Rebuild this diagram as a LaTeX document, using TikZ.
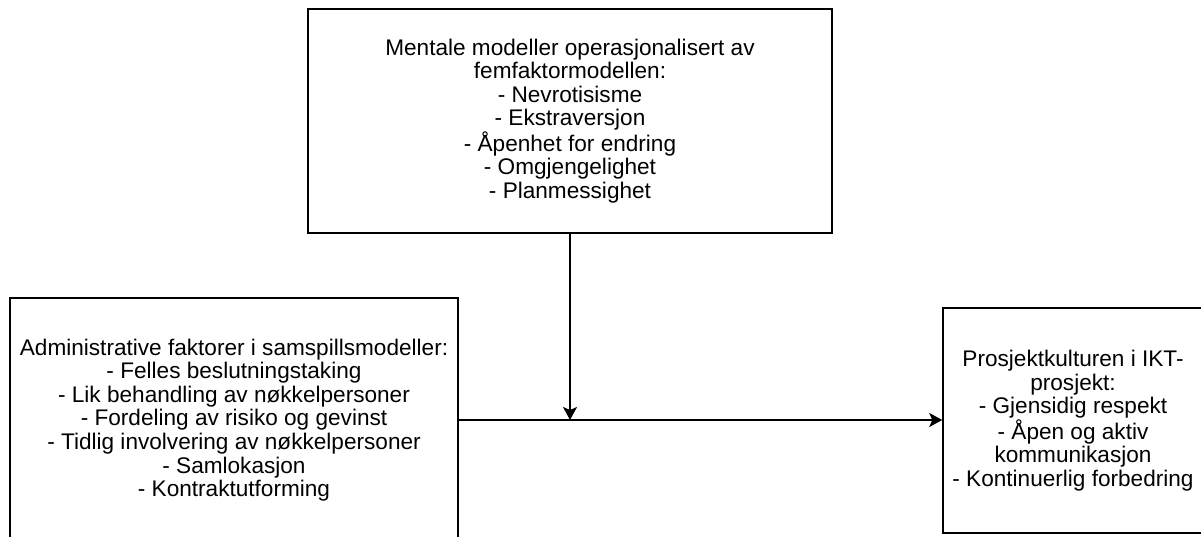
\documentclass[tikz,border=0pt]{standalone}
\usepackage{fontspec}
\setmainfont{Liberation Sans}
\usetikzlibrary{arrows.meta}
\begin{document}
\begin{tikzpicture}[x=1pt,y=-1pt,
  box/.style={draw=black, line width=1.5pt, fill=white, inner sep=0pt, align=center,
    font=\fontsize{22.6}{23.6}\selectfont},
  flow/.style={line width=1.5pt, -{Stealth[length=13pt,width=14pt,inset=3pt]}}]
  \clip (0,0) rectangle (1201,537);
  \fill[white] (0,0) rectangle (1201,537);

  % five-factor model box
  \node[box, minimum width=524pt, minimum height=224pt] (mental) at (570,121)
    {Mentale modeller operasjonalisert av\\femfaktormodellen:\\- Nevrotisisme\\- Ekstraversjon\\- Åpenhet for endring\\- Omgjengelighet\\- Planmessighet};

  % administrative factors box (runs past the lower edge)
  \node[box, minimum width=448pt, minimum height=244pt] (admin) at (234,420)
    {Administrative faktorer i samspillsmodeller:\\- Felles beslutningstaking\\- Lik behandling av nøkkelpersoner\\- Fordeling av risiko og gevinst\\- Tidlig involvering av nøkkelpersoner\\- Samlokasjon\\- Kontraktutforming};

  % project culture box (runs past the right edge)
  \node[box, minimum width=260pt, minimum height=225pt] (culture) at (1073,420.5)
    {Prosjektkulturen i IKT-\\prosjekt:\\- Gjensidig respekt\\- Åpen og aktiv\\kommunikasjon\\- Kontinuerlig forbedring};

  \coordinate (join) at (mental.south |- admin.east);
  \draw[flow] (admin.east) -- (admin.east -| culture.west);
  \draw[flow] (mental.south) -- (join);
\end{tikzpicture}
\end{document}
